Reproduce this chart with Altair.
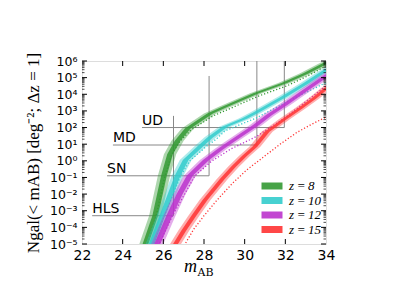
import math
import pandas as pd
import altair as alt

# ---------------- data ----------------
z_labels = ["z\u2009=\u20098", "z\u2009=\u200910", "z\u2009=\u200912", "z\u2009=\u200915"]
colors = ["#339933", "#33cccc", "#bb33cc", "#ff3333"]

# central curves: magnitude m_AB and log10 N
m_z8 = [25.05, 25.12, 25.6, 26.03, 26.33, 26.7, 27.2, 28.3, 29.03, 30.56, 31.95, 33.0, 34.0, 35.0]
n_z8 = [-5.5, -5.0, -3.3, -0.9, 0.4, 1.2, 1.95, 2.85, 3.25, 4.06, 4.68, 5.25, 5.88, 6.45]
m_z10 = [25.35, 25.42, 25.95, 26.7, 27.1, 27.85, 28.3, 29.03, 30.0, 30.56, 31.95, 33.0, 34.0, 35.0]
n_z10 = [-5.5, -5.0, -3.3, -0.9, 0.05, 0.9, 1.4, 2.05, 2.55, 2.9, 3.86, 4.65, 5.45, 6.1]
m_z12 = [25.62, 25.7, 26.3, 26.8, 27.3, 28.1, 28.8, 29.28, 30.56, 31.2, 31.95, 33.0, 34.0, 35.0]
n_z12 = [-5.5, -5.0, -3.3, -2.0, -0.9, 0.05, 0.7, 1.1, 2.15, 2.75, 3.35, 4.25, 5.1, 5.9]
m_z15 = [26.5, 26.6, 27.0, 27.5, 28.05, 28.9, 29.45, 30.0, 30.5, 30.8, 31.1, 31.5, 31.95, 32.72, 33.4, 34.0, 35.0]
n_z15 = [-5.5, -5.0, -4.2, -3.3, -2.35, -1.1, -0.35, 0.3, 0.85, 1.3, 1.75, 2.1, 2.5, 3.15, 3.75, 4.35, 5.2]

# dotted curves
dm_z8 = [25.15, 25.2, 25.65, 26.08, 26.42, 26.8, 27.35, 28.45, 29.2, 30.7, 32.1, 33.1, 34.0, 35.0]
dn_z8 = [-5.5, -5.0, -3.3, -0.9, 0.4, 1.15, 1.85, 2.7, 3.1, 3.9, 4.52, 5.1, 5.7, 6.3]
dm_z10 = [25.45, 25.52, 26.05, 26.85, 27.3, 28.1, 28.6, 29.03, 30.56, 32.0, 33.0, 34.0, 35.0]
dn_z10 = [-5.5, -5.0, -3.3, -0.9, 0.0, 0.85, 1.3, 1.8, 2.57, 3.5, 4.1, 4.7, 5.3]
dm_z12 = [25.72, 25.8, 26.45, 27.55, 28.4, 29.3, 30.56, 32.0, 33.0, 34.0, 35.0]
dn_z12 = [-5.5, -5.0, -3.3, -0.9, 0.0, 0.7, 1.45, 2.6, 3.55, 4.5, 5.2]
dm_z15 = [27.0, 27.07, 27.5, 28.0, 28.65, 29.4, 30.1, 31.0, 31.8, 32.56, 33.3, 34.0, 35.0]
dn_z15 = [-5.5, -5.0, -4.1, -3.3, -2.35, -1.35, -0.55, 0.3, 1.05, 1.7, 2.2, 2.63, 3.2]

# magnitude uncertainty (half widths of the bands, mag)
err_inner = [0.14, 0.14, 0.15, 0.12]
err_outer = [0.3, 0.29, 0.3, 0.27]

# surveys
survey_names = ["HLS", "SN", "MD", "UD"]
survey_mlim = [26.5, 28.25, 30.6, 31.95]
survey_logn = [-3.3, -0.9, 0.95, 2.0]
survey_top = [2.7, 5.1, 6.95, 8.0]
survey_label_m = [22.5, 23.23, 23.52, 24.95]

x_ticks = [22, 24, 26, 28, 30, 32, 34]
y_decades = list(range(-5, 7))

# ---------------- tables ----------------
centres = [(m_z8, n_z8), (m_z10, n_z10), (m_z12, n_z12), (m_z15, n_z15)]
dotted = [(dm_z8, dn_z8), (dm_z10, dn_z10), (dm_z12, dn_z12), (dm_z15, dn_z15)]

band_rows = []
for zi, (ms, ns) in enumerate(centres):
    for i, (m, n) in enumerate(zip(ms, ns)):
        band_rows.append(dict(z=z_labels[zi], idx=i, logn=n,
                              lo1=m - err_inner[zi], hi1=m + err_inner[zi],
                              lo2=m - err_outer[zi], hi2=m + err_outer[zi]))
band_df = pd.DataFrame(band_rows)

dot_rows = []
for zi, (ms, ns) in enumerate(dotted):
    for i, (m, n) in enumerate(zip(ms, ns)):
        dot_rows.append(dict(z=z_labels[zi], idx=i, m=m, logn=n))
dot_df = pd.DataFrame(dot_rows)

surv_rows = []
for s, ml, ln, top, lm in zip(survey_names, survey_mlim, survey_logn, survey_top, survey_label_m):
    surv_rows += [dict(s=s, idx=0, m=lm, logn=ln),
                  dict(s=s, idx=1, m=ml, logn=ln),
                  dict(s=s, idx=2, m=ml, logn=top)]
surv_df = pd.DataFrame(surv_rows)
surv_lab = pd.DataFrame(dict(s=survey_names, m=survey_label_m, logn=survey_logn))

xt_df = pd.DataFrame(dict(t=x_ticks[1:-1]))
yt_df = pd.DataFrame(dict(t=y_decades))
ym_df = pd.DataFrame(dict(t=[d + math.log10(k) for d in y_decades[:-1] for k in range(2, 10)]))

W, H = 244, 183

sup = {"-": "⁻", "0": "⁰", "1": "¹", "2": "²", "3": "³", "4": "⁴",
       "5": "⁵", "6": "⁶", "7": "⁷", "8": "⁸", "9": "⁹"}
ylabels = ["10" + "".join(sup[c] for c in str(v)) for v in y_decades]
label_expr = "[" + ",".join("'%s'" % s for s in ylabels) + "][datum.value + 5]"

xscale = alt.Scale(domain=[22, 34], nice=False, zero=False)
yscale = alt.Scale(domain=[-5, 6], nice=False, zero=False)
xaxis = alt.Axis(values=x_ticks, ticks=False, domain=False, grid=False, title=None,
                 labelFont="DejaVu Sans", labelFontSize=14, labelPadding=4,
                 labelFlush=False, labelColor="black")
yaxis = alt.Axis(values=y_decades, ticks=False, domain=False, grid=False,
                 labelExpr=label_expr, labelFont="DejaVu Sans", labelFontSize=12.5,
                 labelPadding=5, labelColor="black",
                 title="Ngal(< mAB) [deg⁻²; Δz = 1]", titleFont="Liberation Serif",
                 titleFontSize=17, titleFontWeight="normal", titlePadding=7,
                 titleColor="black")


def X(f):
    return alt.X(f, type="quantitative", scale=xscale, axis=xaxis)


def Y(f):
    return alt.Y(f, type="quantitative", scale=yscale, axis=yaxis)


legend = alt.Legend(title=None, orient="none", legendX=183, legendY=118,
                    direction="vertical", symbolType="M-1.5,-0.5H1.5V0.5H-1.5Z",
                    symbolSize=196, symbolStrokeWidth=0, symbolOpacity=0.9,
                    labelFont="Liberation Serif", labelFontStyle="italic",
                    labelFontSize=13, labelOffset=10, rowPadding=0.5, padding=0,
                    labelColor="black")
cscale = alt.Scale(domain=z_labels, range=colors)

layers = []
# survey lines
layers.append(alt.Chart(surv_df).mark_line(color="#888888", strokeWidth=1, clip=True).encode(
    x=X("m"), y=Y("logn"), detail="s:N", order="idx:Q"))
layers.append(alt.Chart(surv_lab).mark_text(align="left", baseline="alphabetic", dy=-3,
                                            font="DejaVu Sans", fontSize=14, color="black").encode(
    x=X("m"), y=Y("logn"), text="s:N"))

for zi, zl in enumerate(z_labels):
    b = alt.Chart(band_df).transform_filter(alt.datum.z == zl)
    layers.append(b.mark_area(orient="horizontal", opacity=0.4, clip=True,
                              color=colors[zi]).encode(
        x=X("lo2"), x2="hi2", y=Y("logn")))
    layers.append(b.mark_area(orient="horizontal", opacity=0.85, clip=True).encode(
        x=X("lo1"), x2="hi1", y=Y("logn"),
        color=alt.Color("z:N", scale=cscale, legend=legend)))
    d = alt.Chart(dot_df).transform_filter(alt.datum.z == zl)
    layers.append(d.mark_line(strokeDash=[1.2, 2], strokeWidth=1.3, clip=True,
                              color=colors[zi]).encode(
        x=X("m"), y=Y("logn"), order="idx:Q"))

# ticks (inward, on all four sides)
tick = dict(color="black", strokeWidth=1)
layers.append(alt.Chart(xt_df).mark_rule(**tick).encode(x=X("t"), y=alt.value(H), y2=alt.value(H - 5)))
layers.append(alt.Chart(xt_df).mark_rule(**tick).encode(x=X("t"), y=alt.value(0), y2=alt.value(5)))
layers.append(alt.Chart(yt_df).mark_rule(**tick).encode(y=Y("t"), x=alt.value(0), x2=alt.value(5)))
layers.append(alt.Chart(yt_df).mark_rule(**tick).encode(y=Y("t"), x=alt.value(W - 5), x2=alt.value(W)))
layers.append(alt.Chart(ym_df).mark_rule(color="black", strokeWidth=0.7).encode(
    y=Y("t"), x=alt.value(0), x2=alt.value(2.5)))
layers.append(alt.Chart(ym_df).mark_rule(color="black", strokeWidth=0.7).encode(
    y=Y("t"), x=alt.value(W - 2.5), x2=alt.value(W)))

# x-axis title m_AB
layers.append(alt.Chart(pd.DataFrame({"t": ["m"]})).mark_text(
    align="right", baseline="alphabetic", font="Liberation Serif", fontStyle="italic",
    fontSize=18, color="black").encode(text="t:N", x=alt.value(W / 2 - 7), y=alt.value(H + 28)))
layers.append(alt.Chart(pd.DataFrame({"t": ["AB"]})).mark_text(
    align="left", baseline="alphabetic", font="DejaVu Serif", fontSize=11,
    color="black").encode(text="t:N", x=alt.value(W / 2 - 6.5), y=alt.value(H + 32)))

chart = alt.layer(*layers).properties(
    width=W, height=H,
    autosize=alt.AutoSizeParams(type="none"),
    padding={"left": 74, "top": 53, "right": 70, "bottom": 50},
).configure_view(stroke="black", strokeWidth=1.3).configure(background="white")

chart.save("out.html", embed_options={"renderer": "svg", "actions": False})
